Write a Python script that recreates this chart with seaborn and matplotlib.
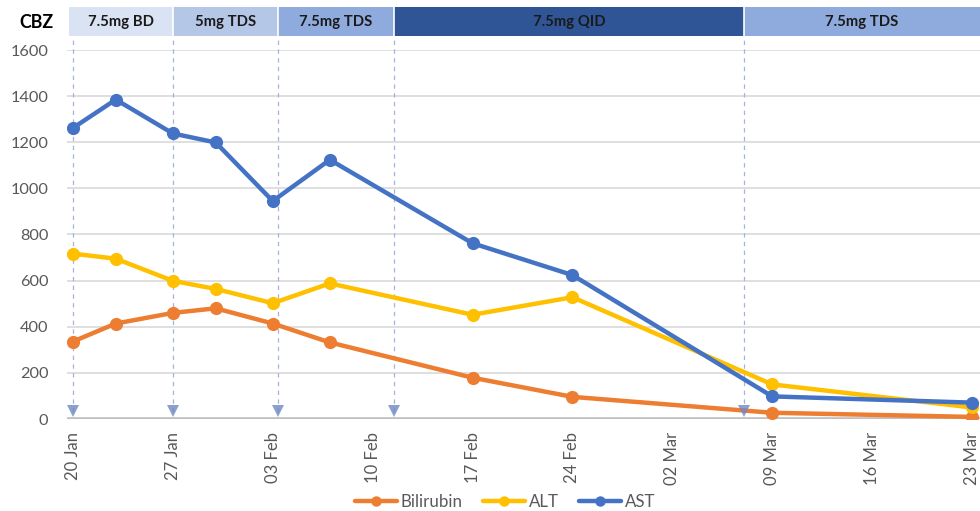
import matplotlib
matplotlib.use("Agg")
import matplotlib.pyplot as plt
import matplotlib.dates as mdates
import pandas as pd
import seaborn as sns

# Liver function results
dates = ["2020-01-20", "2020-01-23", "2020-01-27", "2020-01-30", "2020-02-03",
         "2020-02-07", "2020-02-17", "2020-02-24", "2020-03-09", "2020-03-23"]
bilirubin = [336, 414, 460, 480, 414, 332, 179, 96, 27, 9]
alt = [717, 695, 599, 564, 502, 588, 452, 528, 150, 50]
ast = [1262, 1385, 1238, 1199, 945, 1124, 762, 624, 98, 71]

# CBZ dosing periods (start dates) and labels
dose_starts = ["2020-01-20", "2020-01-27", "2020-02-03 09:00", "2020-02-11 12:00", "2020-03-07"]
dose_labels = ["7.5mg BD", "5mg TDS", "7.5mg TDS", "7.5mg QID", "7.5mg TDS"]
dose_colors = ["#dae3f3", "#b4c7e7", "#8faadc", "#2f5597", "#8faadc"]

tick_dates = ["2020-01-20", "2020-01-27", "2020-02-03", "2020-02-10", "2020-02-17",
              "2020-02-24", "2020-03-02", "2020-03-09", "2020-03-16", "2020-03-23"]
y_ticks = [0, 200, 400, 600, 800, 1000, 1200, 1400, 1600]

series_names = ["Bilirubin", "ALT", "AST"]
palette = {"Bilirubin": "#ed7d31", "ALT": "#ffc000", "AST": "#4472c4"}

df = pd.DataFrame({
    "date": pd.to_datetime(dates * 3),
    "value": bilirubin + alt + ast,
    "test": [n for n in series_names for _ in dates],
})

sns.set_theme(style="white")
plt.rcParams["font.family"] = ["Lato", "DejaVu Sans"]

fig = plt.figure(figsize=(9.8, 5.11), dpi=100)
W, H = 980, 511
ax = fig.add_axes([67 / W, (H - 419) / H, (980 - 67) / W, (419 - 50) / H])

sns.lineplot(data=df, x="date", y="value", hue="test", hue_order=series_names,
             palette=palette, marker="o", markersize=9.5, markeredgewidth=0,
             linewidth=3.2, ax=ax, zorder=5)

t0 = mdates.date2num(pd.Timestamp(tick_dates[0]))
t1 = mdates.date2num(pd.Timestamp(tick_dates[-1]))
x_left, x_right = t0 - 0.42, t1 + 0.56
ax.set_xlim(x_left, x_right)
ax.set_ylim(0, 1600)

ax.set_yticks(y_ticks)
ax.set_yticklabels([str(v) for v in y_ticks], color="#595959", fontsize=11.8)
ax.set_xticks([mdates.date2num(pd.Timestamp(d)) for d in tick_dates])
ax.set_xticklabels([pd.Timestamp(d).strftime("%d %b") for d in tick_dates],
                   rotation=90, color="#595959", fontsize=12)
ax.tick_params(axis="x", length=0, pad=9)
ax.tick_params(axis="y", length=0, pad=13.5)
ax.set_xlabel("")
ax.set_ylabel("")

ax.grid(axis="y", color="#d9d9d9", linewidth=1.2)
ax.grid(axis="x", visible=False)
for s in ax.spines.values():
    s.set_visible(False)
ax.axhline(0, color="#bfbfbf", linewidth=2.6, zorder=3)

# Dose change markers: dashed guide lines and arrows
change_x = [mdates.date2num(pd.Timestamp(d)) for d in dose_starts]
ymax = (419 - 36) / (419 - 50)
for cx in change_x:
    ax.axvline(cx, ymin=0.02, ymax=ymax, color="#a3b4da", linewidth=0.9,
               linestyle=(0, (3.5, 3.5)), clip_on=False, zorder=2)
ax.plot(change_x, [34] * len(change_x), linestyle="none", marker="v",
        markersize=9, color="#6f87c2", markeredgewidth=0, zorder=6, alpha=0.8)

# Dose band on top
bax = fig.add_axes([67 / W, (H - 36) / H, (980 - 67) / W, 29 / H], sharex=ax)
bounds = [x_left + 0.15] + change_x[1:] + [x_right]
for i, lab in enumerate(dose_labels):
    bax.axvspan(bounds[i], bounds[i + 1], color=dose_colors[i], linewidth=0)
    if i > 0:
        bax.axvline(bounds[i], color="white", linewidth=1.2)
    bax.text((bounds[i] + bounds[i + 1]) / 2, 0.5, lab, ha="center", va="center",
             fontsize=10.7, fontweight="bold", color="#1a1a1a")
bax.set_ylim(0, 1)
bax.axis("off")
fig.text(36 / W, (H - 22) / H, "CBZ", ha="center", va="center",
         fontsize=12.8, fontweight="bold", color="black")

handles, labels = ax.get_legend_handles_labels()
ax.get_legend().remove()
for h in handles:
    h.set_markersize(7.5)
fig.legend(handles, labels, loc="center", bbox_to_anchor=(505 / W, (H - 502) / H),
           ncol=3, frameon=False, fontsize=12.2, handlelength=2.5,
           columnspacing=1.2, handletextpad=0.2, labelcolor="#595959")

fig.savefig("out.png", dpi=100)
